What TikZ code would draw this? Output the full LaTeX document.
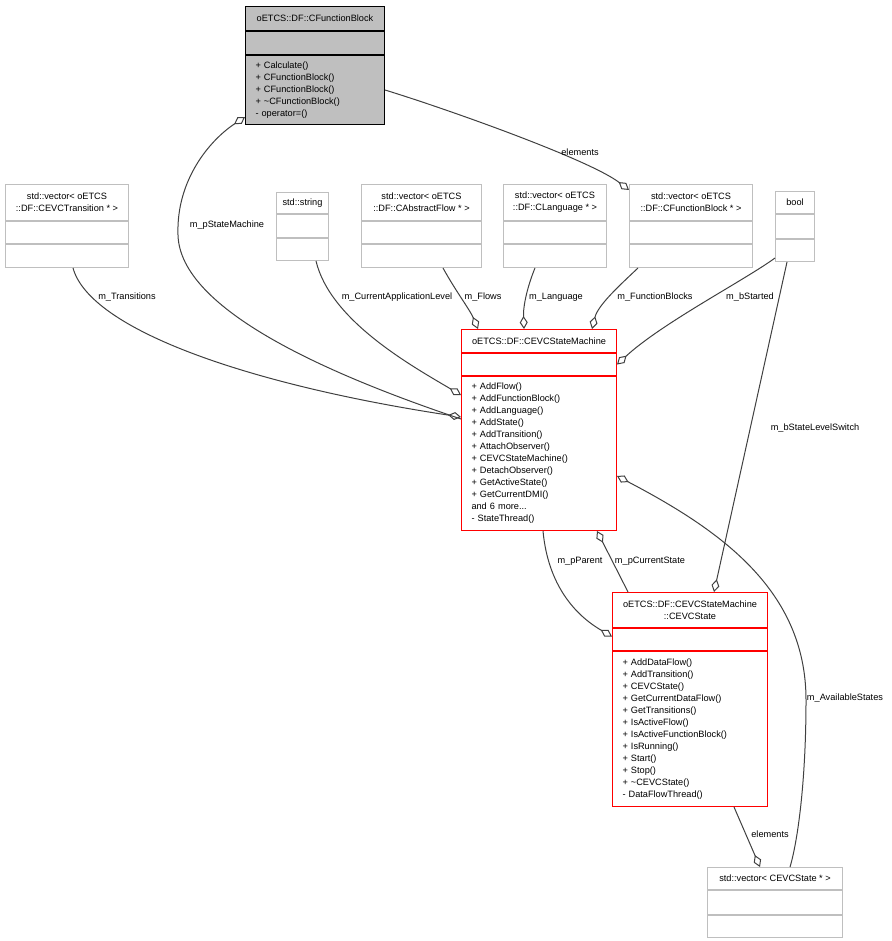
\documentclass[tikz,border=0pt]{standalone}
\usepackage{fontspec}
\setmainfont{Liberation Sans}
\usetikzlibrary{positioning}
\usetikzlibrary{arrows.meta}
\definecolor{grayline}{HTML}{BFBFBF}
\definecolor{fbfill}{HTML}{BFBFBF}
\definecolor{linkgray}{HTML}{404040}
\newcommand{\umlfont}{\fontsize{9.2}{12}\selectfont}

\begin{document}
\begin{tikzpicture}[x=1pt, y=-1pt,
  cls/.style={draw=#1, line width=1pt, inner sep=0pt, align=center, font=\umlfont},
  ops/.style={cls=#1, inner xsep=10pt, align=left},
  redcls/.style={cls=red, line width=1pt},
  member/.style={draw=linkgray, line width=1pt},
  agg/.style={member, -{Diamond[open, length=13pt, width=8pt]}},
  lbl/.style={font=\umlfont, inner sep=0pt}]
\useasboundingbox (0,0) rectangle (891,941);

% CFunctionBlock
\node[cls=black, fill=fbfill, anchor=north west, minimum width=139, minimum height=24] (fb) at (245,6) {oETCS::DF::CFunctionBlock};
\node[cls=black, fill=fbfill, minimum width=139, minimum height=23, below=0pt of fb] (fb1) {};
\node[ops=black, fill=fbfill, text width=119, minimum height=69, below=0pt of fb1] (fb2) {+ Calculate()\\+ CFunctionBlock()\\+ CFunctionBlock()\\+ \textasciitilde CFunctionBlock()\\- operator=()};

% vectors
\foreach \n/\x/\w/\cn in {tr/5/123/CEVCTransition, af/361/120/CAbstractFlow, lg/503/103/CLanguage, fbv/629/123/CFunctionBlock} {
  \node[cls=grayline, anchor=north west, minimum width=\w, minimum height=36] (\n) at (\x,184) {std::vector< oETCS\\::DF::\cn{} * >};
  \node[cls=grayline, minimum width=\w, minimum height=22, below=0pt of \n] (\n1) {};
  \node[cls=grayline, minimum width=\w, minimum height=23, below=0pt of \n1] (\n2) {};
}

\node[cls=grayline, anchor=north west, minimum width=52, minimum height=21] (str) at (276,192) {std::string};
\node[cls=grayline, minimum width=52, minimum height=23, below=0pt of str] (str1) {};
\node[cls=grayline, minimum width=52, minimum height=22, below=0pt of str1] (str2) {};

\node[cls=grayline, anchor=north west, minimum width=39, minimum height=22] (bo) at (775,191) {bool};
\node[cls=grayline, minimum width=39, minimum height=24, below=0pt of bo] (bo1) {};
\node[cls=grayline, minimum width=39, minimum height=22, below=0pt of bo1] (bo2) {};

% CEVCStateMachine
\node[redcls, anchor=north west, minimum width=155, minimum height=23] (sm) at (461,329) {oETCS::DF::CEVCStateMachine};
\node[redcls, minimum width=155, minimum height=22, below=0pt of sm] (sm1) {};
\node[ops=red, text width=135, minimum height=154, below=0pt of sm1] (sm2) {+ AddFlow()\\+ AddFunctionBlock()\\+ AddLanguage()\\+ AddState()\\+ AddTransition()\\+ AttachObserver()\\+ CEVCStateMachine()\\+ DetachObserver()\\+ GetActiveState()\\+ GetCurrentDMI()\\and 6 more...\\- StateThread()};

% CEVCState
\node[redcls, anchor=north west, minimum width=155, minimum height=35] (st) at (612,592) {oETCS::DF::CEVCStateMachine\\::CEVCState};
\node[redcls, minimum width=155, minimum height=22, below=0pt of st] (st1) {};
\node[ops=red, text width=135, minimum height=155, below=0pt of st1] (st2) {+ AddDataFlow()\\+ AddTransition()\\+ CEVCState()\\+ GetCurrentDataFlow()\\+ GetTransitions()\\+ IsActiveFlow()\\+ IsActiveFunctionBlock()\\+ IsRunning()\\+ Start()\\+ Stop()\\+ \textasciitilde CEVCState()\\- DataFlowThread()};

\node[cls=grayline, anchor=north west, minimum width=135, minimum height=22] (sv) at (707,867) {std::vector< CEVCState * >};
\node[cls=grayline, minimum width=135, minimum height=24, below=0pt of sv] (sv1) {};
\node[cls=grayline, minimum width=135, minimum height=22, below=0pt of sv1] (sv2) {};

% members
\draw[agg] (fb2.east) .. controls (450,110) and (590,160) .. ([yshift=-6pt]fbv.north west) node[lbl] at (580,152) {elements};
\draw[agg] ([yshift=-43pt]sm2.north west) .. controls (330,375) and (180,310) .. (178,235) .. controls (176,180) and (210,140) .. ([yshift=8pt]fb2.south west) node[lbl] at (227,225) {m\_pStateMachine};
\draw[agg] ([xshift=68pt]tr2.south west) .. controls (90,330) and (250,385) .. ([yshift=-41pt]sm2.north west) node[lbl] at (127,297) {m\_Transitions};
\draw[agg] ([xshift=40pt]str2.south west) .. controls (330,320) and (410,365) .. ([yshift=-19pt]sm2.north west) node[lbl] at (397,297) {m\_CurrentApplicationLevel};
\draw[agg] ([xshift=82pt]af2.south west) .. controls (455,290) and (470,310) .. ([xshift=17pt]sm.north west) node[lbl] at (483,297) {m\_Flows};
\draw[agg] ([xshift=32pt]lg2.south west) .. controls (528,285) and (523,305) .. ([xshift=63pt]sm.north west) node[lbl] at (556,297) {m\_Language};
\draw[agg] ([xshift=9pt]fbv2.south west) .. controls (620,285) and (598,305) .. ([xshift=131pt]sm.north west) node[lbl] at (655,297) {m\_FunctionBlocks};
\draw[agg] ([yshift=4pt]bo2.south west) .. controls (745,280) and (662,323) .. (sm1.east) node[lbl] at (750,297) {m\_bStarted};
\draw[agg] ([xshift=12pt]bo2.south west) -- ([xshift=102pt]st.north west) node[lbl] at (815,428) {m\_bStateLevelSwitch};
\draw[agg] ([xshift=83pt]sv.north west) .. controls (798,840) and (806,780) .. (806,700) .. controls (806,590) and (720,530) .. ([yshift=-100pt]sm2.north east) node[lbl] at (845,698) {m\_AvailableStates};
\draw[agg] ([xshift=82pt]sm2.south west) .. controls (548,585) and (575,615) .. ([yshift=3pt]st1.west) node[lbl] at (580,561) {m\_pParent};
\draw[agg] ([xshift=16pt]st.north west) -- ([xshift=136pt]sm2.south west) node[lbl] at (650,561) {m\_pCurrentState};
\draw[agg] ([xshift=122pt]st2.south west) -- ([xshift=53pt]sv.north west) node[lbl] at (770,834) {elements};

\end{tikzpicture}
\end{document}
